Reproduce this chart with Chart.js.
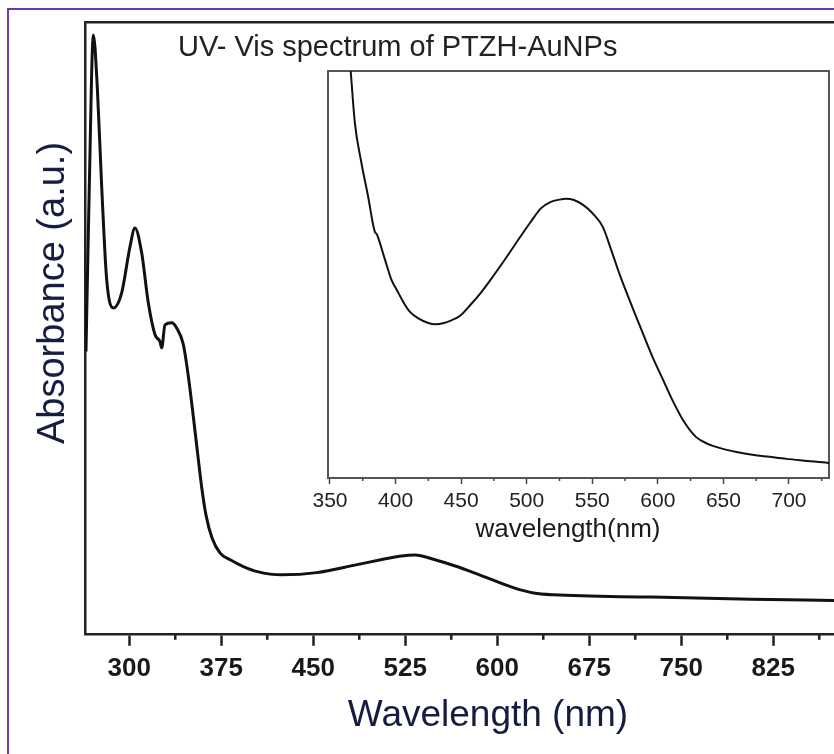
<!DOCTYPE html>
<html>
<head>
<meta charset="utf-8">
<script src="https://cdn.jsdelivr.net/npm/chart.js@4.4.1/dist/chart.umd.min.js"></script>
<style>
  html, body { margin: 0; padding: 0; background: #fff; }
  #wrap { position: relative; width: 834px; height: 754px; overflow: hidden; background: #fff;
          font-family: "Liberation Sans", Arial, sans-serif; }
  #frame { position: absolute; left: 7px; top: 8px; width: 900px; height: 900px;
           border-top: 2px solid #7436ac; border-left: 2px solid #7436ac; }
  canvas { position: absolute; }
  #main { left: 0; top: 0; }
  #inset { left: 300px; top: 60px; }
  .lbl { position: absolute; white-space: nowrap; transform: translate(-50%, -50%); line-height: 1; }
  #plotTitle { position: absolute; left: 178px; top: 30px; line-height: 32px; font-size: 29px;
               color: #222; white-space: nowrap; }
  #yTitle { left: 51px; top: 293px; font-size: 38px; color: #141c40;
            transform: translate(-50%, -50%) rotate(-90deg); }
  #xTitle { left: 488px; top: 713px; font-size: 37px; color: #141c40; }
  #insetTitle { left: 568px; top: 528px; font-size: 26px; color: #1a1a1a; }
</style>
</head>
<body>
<div id="wrap">
  <div id="frame"></div>
  <canvas id="main" width="834" height="754"></canvas>
  <canvas id="inset" width="534" height="490"></canvas>
  <div id="plotTitle">UV- Vis spectrum of PTZH-AuNPs</div>
  <div class="lbl" id="yTitle">Absorbance (a.u.)</div>
  <div class="lbl" id="xTitle">Wavelength (nm)</div>
  <div class="lbl" id="insetTitle">wavelength(nm)</div>
</div>
<script>
// main spectrum (absorbance in arbitrary units)
const mainWavelength = [264.7, 267.4, 270.7, 273.9, 277.5, 281.6, 287, 293.8, 300.6, 304.6,
  310.1, 315.5, 321, 325, 326.4, 329.1, 334.6, 338.6, 344, 346.8, 349.5, 352.7, 356, 359.3,
  362.5, 367.4, 373.9, 382.3, 393, 404.4, 424.5, 452.8, 484.8, 505, 520, 532.9, 549.2, 567,
  585.5, 613.6, 629.7, 645.9, 726.1, 806.8, 874.5];
const mainAbsorbance = [1.384, 2.193, 2.936, 2.683, 2.193, 1.735, 1.598, 1.672, 1.899, 1.990,
  1.868, 1.623, 1.466, 1.433, 1.402, 1.515, 1.525, 1.500, 1.420, 1.320, 1.200, 1.040, 0.870, 0.706,
  0.583, 0.471, 0.397, 0.363, 0.330, 0.305, 0.289, 0.300, 0.338, 0.363, 0.380, 0.387, 0.363, 0.330,
  0.289, 0.225, 0.200, 0.191, 0.180, 0.170, 0.163];
const mainTicks = [300, 375, 450, 525, 600, 675, 750, 825];
const mainMinorTicks = [337.5, 412.5, 487.5, 562.5, 637.5, 712.5, 787.5, 862.5];

// inset: zoom on the plasmon band
const insetWavelength = [362, 365.8, 369, 374, 379, 384.3, 385.5, 386.6, 392, 397, 401, 406, 411,
  418, 425, 430, 437, 443, 449, 457, 465, 472, 483, 495, 503, 511, 518, 525, 530, 536, 543, 550,
  558, 565, 571, 586, 596, 604, 611, 620, 629, 638, 647, 660, 672, 685, 698, 714, 730, 735];
const insetAbsorbance = [1.15, 1.000, 0.872, 0.774, 0.693, 0.604, 0.600, 0.592, 0.536, 0.486, 0.462,
  0.432, 0.408, 0.391, 0.381, 0.378, 0.381, 0.388, 0.398, 0.425, 0.455, 0.485, 0.535, 0.592, 0.629,
  0.663, 0.678, 0.684, 0.686, 0.683, 0.671, 0.651, 0.617, 0.555, 0.499, 0.376, 0.297, 0.241,
  0.192, 0.138, 0.101, 0.084, 0.074, 0.064, 0.057, 0.052, 0.047, 0.042, 0.037, 0.036];
const insetTicks = [350, 400, 450, 500, 550, 600, 650, 700];
const insetMinorTicks = [375, 425, 475, 525, 575, 625, 675, 725];

const FONT = '"Liberation Sans", Arial, sans-serif';

// short ticks between the labelled ones
const minorTicks = {
  id: 'minorTicks',
  afterDraw(chart, args, opts) {
    const scale = chart.scales.x;
    const ctx = chart.ctx;
    ctx.save();
    ctx.strokeStyle = opts.color;
    ctx.lineWidth = opts.width;
    opts.values.forEach(v => {
      const px = scale.getPixelForValue(v);
      ctx.beginPath();
      ctx.moveTo(px, scale.top);
      ctx.lineTo(px, scale.top + opts.length);
      ctx.stroke();
    });
    ctx.restore();
  }
};

function hiddenAxis(position, color, width) {
  return {
    type: 'linear',
    position: position,
    ticks: { display: false },
    grid: { drawOnChartArea: false, drawTicks: false },
    border: { display: true, width: width, color: color }
  };
}

function toPoints(xs, ys) {
  return xs.map((x, i) => ({ x: x, y: ys[i] }));
}

new Chart(document.getElementById('main'), {
  type: 'line',
  data: {
    datasets: [{
      data: toPoints(mainWavelength, mainAbsorbance),
      xAxisID: 'x',
      yAxisID: 'y',
      borderColor: '#111',
      borderWidth: 3,
      pointRadius: 0,
      fill: false,
      cubicInterpolationMode: 'monotone'
    }]
  },
  options: {
    responsive: false,
    animation: false,
    devicePixelRatio: 1,
    layout: { padding: { left: 85, top: 22, right: 0, bottom: 63 } },
    plugins: {
      legend: { display: false },
      tooltip: { enabled: false },
      minorTicks: { values: mainMinorTicks, length: 6, width: 2.5, color: '#222' }
    },
    scales: {
      x: {
        type: 'linear',
        position: 'bottom',
        min: 263.9,
        max: 874.5,
        afterBuildTicks: s => { s.ticks = mainTicks.map(v => ({ value: v })); },
        ticks: { font: { family: FONT, size: 26, weight: 'bold' }, color: '#1a1a1a',
                 padding: 7, maxRotation: 0, autoSkip: false },
        grid: { drawOnChartArea: false, drawTicks: true, tickLength: 12, tickWidth: 2.5, tickColor: '#222' },
        border: { display: true, width: 2.5, color: '#222' }
      },
      xTop: hiddenAxis('top', '#222', 2.5),
      y: {
        type: 'linear',
        position: 'left',
        min: 0,
        max: 3,
        ticks: { display: false },
        grid: { drawOnChartArea: false, drawTicks: false },
        border: { display: true, width: 2.5, color: '#222' }
      }
    }
  },
  plugins: [minorTicks]
});

new Chart(document.getElementById('inset'), {
  type: 'line',
  data: {
    datasets: [{
      data: toPoints(insetWavelength, insetAbsorbance),
      xAxisID: 'x',
      yAxisID: 'y',
      borderColor: '#111',
      borderWidth: 2,
      pointRadius: 0,
      fill: false,
      cubicInterpolationMode: 'monotone'
    }]
  },
  options: {
    responsive: false,
    animation: false,
    devicePixelRatio: 1,
    layout: { padding: { left: 28, top: 11, right: 5, bottom: 32 } },
    plugins: {
      legend: { display: false },
      tooltip: { enabled: false },
      minorTicks: { values: insetMinorTicks, length: 3, width: 1.5, color: '#444' }
    },
    scales: {
      x: {
        type: 'linear',
        position: 'bottom',
        min: 348.5,
        max: 730.5,
        afterBuildTicks: s => { s.ticks = insetTicks.map(v => ({ value: v })); },
        ticks: { font: { family: FONT, size: 21 }, color: '#222', padding: 4.4,
                 maxRotation: 0, autoSkip: false },
        grid: { drawOnChartArea: false, drawTicks: true, tickLength: 6, tickWidth: 1.5, tickColor: '#444' },
        border: { display: true, width: 2, color: '#555' }
      },
      xTop: hiddenAxis('top', '#555', 2),
      y: {
        type: 'linear',
        position: 'left',
        min: 0,
        max: 1,
        ticks: { display: false },
        grid: { drawOnChartArea: false, drawTicks: false },
        border: { display: true, width: 2, color: '#555' }
      },
      yRight: hiddenAxis('right', '#555', 2)
    }
  },
  plugins: [minorTicks]
});
</script>
</body>
</html>
